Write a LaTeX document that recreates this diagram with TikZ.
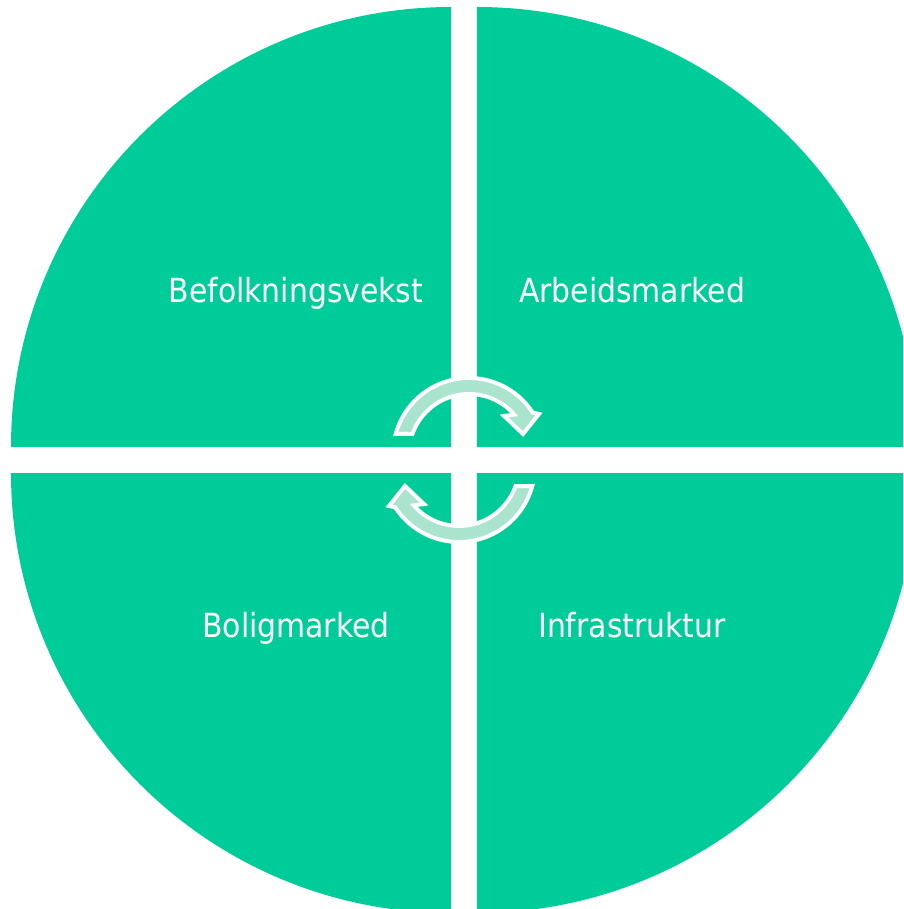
\documentclass[tikz,border=0pt]{standalone}
\usepackage{fontspec}
\setmainfont{DejaVu Sans Condensed}
\definecolor{verde}{RGB}{0,204,153}
\definecolor{menta}{RGB}{170,228,206}
\begin{document}
\begin{tikzpicture}[x=0.025cm, y=0.025cm,
    quadrante/.style={fill=verde, draw=none},
    rotulo/.style={text=white, anchor=base, font=\fontsize{23.6}{28}\selectfont},
    seta/.style={fill=menta, draw=white, line width=2.8pt, miter limit=4}]
    \useasboundingbox (-464,-449) rectangle (439,460);
    \clip (-464,-449) rectangle (439,460);

    % Quadrantes do circulo
    \fill[quadrante] (-13,13) -- (-453,13) arc[start angle=180, end angle=90, radius=440] -- cycle;
    \fill[quadrante] (13,13) -- (13,453) arc[start angle=90, end angle=0, radius=440] -- cycle;
    \fill[quadrante] (-13,-13) -- (-13,-453) arc[start angle=270, end angle=180, radius=440] -- cycle;
    \fill[quadrante] (13,-13) -- (453,-13) arc[start angle=0, end angle=-90, radius=440] -- cycle;

    % Rotulos dos quadrantes
    \node[rotulo] (befolkning) at (-168,158) {Befolkningsvekst};
    \node[rotulo] (arbeid) at (168,158) {Arbeidsmarked};
    \node[rotulo] (bolig) at (-168,-177) {Boligmarked};
    \node[rotulo] (infra) at (168,-177) {Infrastruktur};

    % Setas circulares no centro
    \begin{scope}[shift={(5,6)}]
      \filldraw[seta] (164.7:76) arc[start angle=164.7, end angle=33, radius=76]
        -- (70,40) -- (54,20) -- (35,38)
        -- (41:60) arc[start angle=41, end angle=160.5, radius=60] -- cycle;
    \end{scope}
    \begin{scope}[rotate=180, shift={(5,6)}]
      \filldraw[seta] (164.7:76) arc[start angle=164.7, end angle=33, radius=76]
        -- (70,40) -- (54,20) -- (35,38)
        -- (41:60) arc[start angle=41, end angle=160.5, radius=60] -- cycle;
    \end{scope}
\end{tikzpicture}
\end{document}
